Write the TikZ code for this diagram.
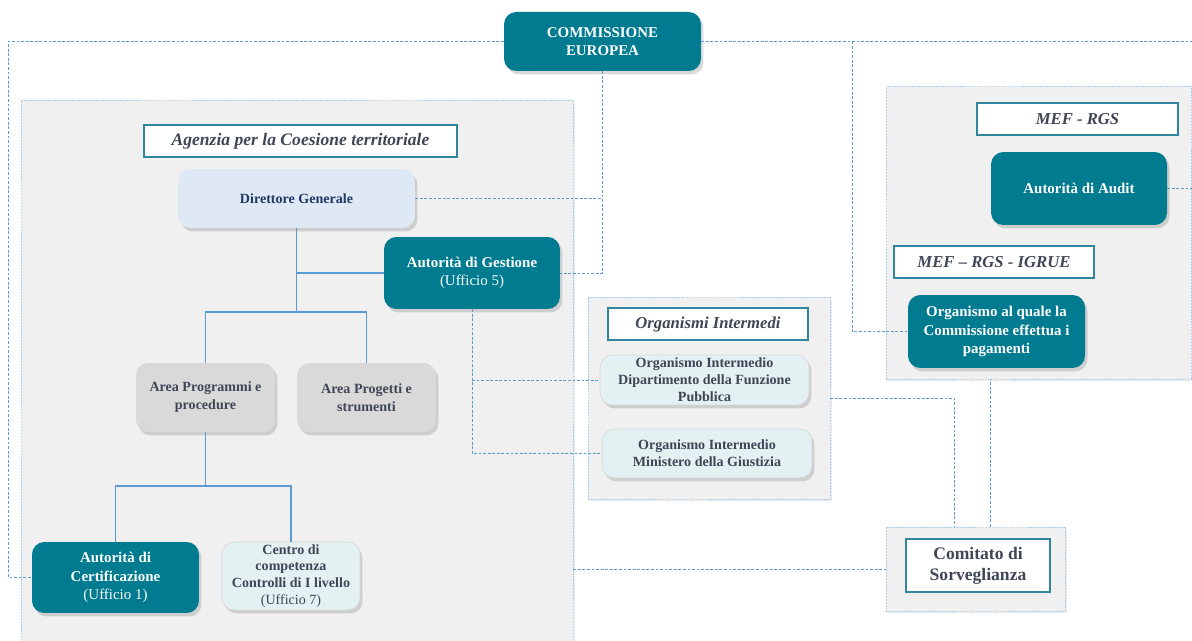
\documentclass[tikz,border=0pt]{standalone}
\usepackage{fontspec}
\setmainfont{Liberation Serif}
\usetikzlibrary{shadows}

\definecolor{acteal}{RGB}{0,123,143}
\definecolor{panelgray}{RGB}{240,240,240}
\definecolor{panelline}{RGB}{170,204,234}
\definecolor{linkblue}{RGB}{91,155,213}
\definecolor{titleline}{RGB}{49,133,156}
\definecolor{slatetext}{RGB}{63,70,86}
\definecolor{navytext}{RGB}{31,56,100}
\definecolor{dgfill}{RGB}{222,233,245}
\definecolor{areafill}{RGB}{217,217,217}
\definecolor{oifill}{RGB}{227,241,243}

\tikzset{
  shadowed/.style={drop shadow={opacity=0.3, shadow xshift=0.05cm, shadow yshift=-0.07cm}},
  panel/.style={draw=panelline, dash pattern=on 1pt off 0.7pt, fill=panelgray,
    drop shadow={opacity=0.15, shadow xshift=0.04cm, shadow yshift=-0.05cm}, inner sep=0pt},
  titlebox/.style={draw=titleline, line width=0.7pt, fill=white, text=slatetext,
    font=\bfseries\itshape\fontsize{9.5}{11}\selectfont, inner sep=1pt},
  box/.style={rounded corners=7pt, align=center, inner sep=1pt, shadowed,
    font=\bfseries\fontsize{8}{10.2}\selectfont},
  darkbox/.style={box, fill=acteal, text=white},
  dgbox/.style={box, fill=dgfill, text=navytext},
  areabox/.style={box, fill=areafill, text=slatetext},
  oibox/.style={box, fill=oifill, draw=areafill, text=slatetext, font=\bfseries\fontsize{8}{9.6}\selectfont},
  link/.style={draw=linkblue, line width=0.5pt, dash pattern=on 1.6pt off 1pt},
  tree/.style={draw=linkblue, line width=0.8pt}
}

\begin{document}
\begin{tikzpicture}[x=0.02cm, y=-0.02cm]
    \useasboundingbox (0,0) rectangle (1192,641);

    % panels
    \node[panel, minimum width=11.04cm, minimum height=11cm] (pag) at (297,375) {};
    \node[panel, minimum width=4.84cm, minimum height=4.04cm] (poi) at (709,398) {};
    \node[panel, minimum width=6.1cm, minimum height=5.86cm] (pmef) at (1038.5,232.5) {};
    \node[panel, minimum width=3.58cm, minimum height=1.68cm] (pcs) at (975.5,569) {};

    % titles
    \node[titlebox, font=\bfseries\itshape\fontsize{10}{12}\selectfont,
          minimum width=6.26cm, minimum height=0.64cm] (tag) at (300.5,141) {Agenzia per la Coesione territoriale};
    \node[titlebox, minimum width=4cm, minimum height=0.64cm] (toi) at (708,324) {Organismi Intermedi};
    \node[titlebox, minimum width=4.02cm, minimum height=0.64cm] (tmef) at (1077.5,119) {MEF - RGS};
    \node[titlebox, minimum width=4cm, minimum height=0.64cm] (tigr) at (994,262) {MEF -- RGS - IGRUE};
    \node[titlebox, font=\bfseries\fontsize{10}{12}\selectfont, align=center,
          minimum width=2.88cm, minimum height=1.06cm] (tcs) at (978,565.5) {Comitato di\\Sorveglianza};

    % boxes
    \node[darkbox, minimum width=3.94cm, minimum height=1.18cm, font=\bfseries\fontsize{8.5}{10.5}\selectfont] (ce) at (602.5,41.5) {COMMISSIONE\\EUROPEA};
    \node[dgbox, minimum width=4.74cm, minimum height=1.18cm] (dg) at (296.5,198.5) {Direttore Generale};
    \node[darkbox, minimum width=3.52cm, minimum height=1.44cm, font=\bfseries\fontsize{8.5}{10.5}\selectfont] (ag) at (472,273) {Autorità di Gestione\\\mdseries(Ufficio 5)};
    \node[areabox, minimum width=2.78cm, minimum height=1.38cm] (ap) at (205.5,397.5) {Area Programmi e\\procedure};
    \node[areabox, minimum width=2.78cm, minimum height=1.38cm] (aps) at (366.5,397.5) {Area Progetti e\\strumenti};
    \node[darkbox, minimum width=3.34cm, minimum height=1.42cm, font=\bfseries\fontsize{8.5}{10.5}\selectfont] (ac) at (115.5,577.5) {Autorità di\\Certificazione\\\mdseries(Ufficio 1)};
    \node[oibox, minimum width=2.76cm, minimum height=1.36cm] (cc) at (291,576) {Centro di\\competenza\\Controlli di I livello\\\mdseries(Ufficio 7)};
    \node[oibox, minimum width=4.18cm, minimum height=1cm] (oi1) at (704.5,380) {Organismo Intermedio\\Dipartimento della Funzione\\Pubblica};
    \node[oibox, minimum width=4.2cm, minimum height=0.98cm] (oi2) at (707,453.5) {Organismo Intermedio\\Ministero della Giustizia};
    \node[darkbox, minimum width=3.52cm, minimum height=1.46cm, font=\bfseries\fontsize{8.5}{10.5}\selectfont] (aa) at (1079,188.5) {Autorità di Audit};
    \node[darkbox, minimum width=3.54cm, minimum height=1.46cm, font=\bfseries\fontsize{8.5}{10.3}\selectfont] (op) at (996.5,331.5) {Organismo al quale la\\Commissione effettua i\\pagamenti};

    % tree lines
    \coordinate (hubA) at (296.5,312);
    \coordinate (hubB) at (205.5,486);
    \draw[tree] (dg.south) -- (hubA);
    \draw[tree] (dg.south |- ag.west) -- (ag.west);
    \draw[tree] (ap.north) |- (hubA) -| (aps.north);
    \draw[tree] (ap.south) -- (hubB);
    \draw[tree] (ac.north) |- (hubB) -| (cc.north);

    % dashed links
    \coordinate (cornerL) at (8.4,577.5);
    \coordinate (edgeC) at (1192,41.5);
    \coordinate (jr) at (852,41.5);
    \coordinate (edgeA) at (1192,188.5);
    \draw[link] (ce.west) -| (cornerL) -- (ac.west);
    \draw[link] (ce.east) -- (edgeC);
    \draw[link] (jr) |- (op.west);
    \draw[link] (ce.south) |- (ag.east);
    \draw[link] (dg.east) -- (dg.east -| ce.south);
    \draw[link] (ag.south) |- (oi2.west);
    \draw[link] (ag.south |- oi1.west) -- (oi1.west);
    \draw[link] (aa.east) -- (edgeA);
    \draw[link] (poi.east) -| ([xshift=-0.43cm]pcs.north);
    \draw[link] ([xshift=0.29cm]pcs.north) -- ([xshift=0.29cm]pcs.north |- pmef.south);
    \draw[link] (pcs.west -| pag.east) -- (pcs.west);
\end{tikzpicture}
\end{document}
